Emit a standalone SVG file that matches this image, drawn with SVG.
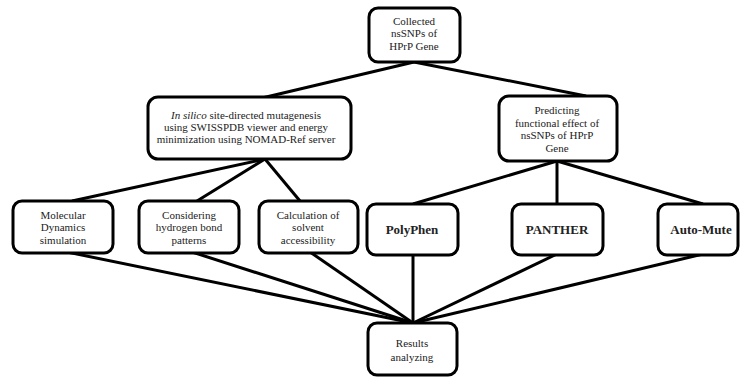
<svg xmlns="http://www.w3.org/2000/svg" width="741" height="382" viewBox="0 0 741 382">
<style>
.box{fill:#fff;stroke:#000;stroke-width:3}
.ln{stroke:#000;stroke-width:3;fill:none}
text{font-family:"Liberation Serif","DejaVu Serif",serif;font-size:11px;fill:#222;text-anchor:middle}
.b{font-weight:bold;font-size:13px}
</style>
<rect width="741" height="382" fill="#fff"/>
<g id="connectors">
<line class="ln" x1="414" y1="62" x2="262" y2="98"/>
<line class="ln" x1="414" y1="62" x2="586" y2="96"/>
<line class="ln" x1="265" y1="159" x2="72" y2="201"/>
<line class="ln" x1="265" y1="159" x2="197" y2="201"/>
<line class="ln" x1="265" y1="159" x2="300" y2="201"/>
<line class="ln" x1="557" y1="161" x2="413" y2="204"/>
<line class="ln" x1="557" y1="161" x2="557" y2="204"/>
<line class="ln" x1="557" y1="161" x2="703" y2="204"/>
<line class="ln" x1="67" y1="252" x2="413" y2="323"/>
<line class="ln" x1="192" y1="252" x2="413" y2="323"/>
<line class="ln" x1="310" y1="252" x2="413" y2="323"/>
<line class="ln" x1="413" y1="254" x2="413" y2="323"/>
<line class="ln" x1="557" y1="254" x2="413" y2="323"/>
<line class="ln" x1="703" y1="254" x2="413" y2="323"/>
</g>
<g id="n-top">
<rect class="box" x="369" y="8" width="91" height="54" rx="9"/>
<text x="414" y="25">Collected</text>
<text x="414" y="37">nsSNPs of</text>
<text x="414" y="50">HPrP Gene</text>
</g>
<g id="n-insilico">
<rect class="box" x="148" y="97" width="203" height="62" rx="10"/>
<text x="246" y="119"><tspan font-style="italic">In silico</tspan> site-directed mutagenesis</text>
<text x="246" y="131">using SWISSPDB viewer and energy</text>
<text x="246" y="143">minimization using NOMAD-Ref server</text>
</g>
<g id="n-predict">
<rect class="box" x="499" y="96" width="118" height="65" rx="10"/>
<text x="557" y="114">Predicting</text>
<text x="557" y="127">functional effect of</text>
<text x="557" y="139">nsSNPs of HPrP</text>
<text x="557" y="152">Gene</text>
</g>
<g id="n-md">
<rect class="box" x="13" y="201" width="100" height="52" rx="9"/>
<text x="63" y="219">Molecular</text>
<text x="63" y="231">Dynamics</text>
<text x="63" y="244">simulation</text>
</g>
<g id="n-hb">
<rect class="box" x="139" y="201" width="100" height="52" rx="9"/>
<text x="189" y="219">Considering</text>
<text x="189" y="231">hydrogen bond</text>
<text x="189" y="244">patterns</text>
</g>
<g id="n-sa">
<rect class="box" x="259" y="201" width="99" height="52" rx="9"/>
<text x="308" y="219">Calculation of</text>
<text x="308" y="231">solvent</text>
<text x="308" y="244">accessibility</text>
</g>
<g id="n-polyphen">
<rect class="box" x="367" y="204" width="91" height="51" rx="9"/>
<text class="b" x="412" y="234">PolyPhen</text>
</g>
<g id="n-panther">
<rect class="box" x="512" y="204" width="91" height="51" rx="9"/>
<text class="b" x="557" y="234">PANTHER</text>
</g>
<g id="n-automute">
<rect class="box" x="658" y="204" width="80" height="51" rx="9"/>
<text class="b" x="701" y="234">Auto-Mute</text>
</g>
<g id="n-results">
<rect class="box" x="368" y="323" width="89" height="52" rx="9"/>
<text x="412" y="347">Results</text>
<text x="412" y="361">analyzing</text>
</g>
</svg>
